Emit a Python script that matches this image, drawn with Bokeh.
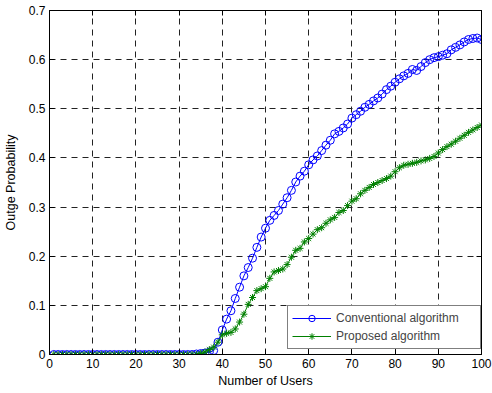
from bokeh.plotting import figure
from bokeh.models import Range1d, FixedTicker, LinearAxis, Legend, LegendItem
from bokeh.embed import file_html
from bokeh.resources import INLINE

users = list(range(1, 101))

conventional = [0.0] * 33 + [
    0.001, 0.002, 0.003, 0.005, 0.008, 0.025, 0.050,            # 34-40
    0.072, 0.089, 0.114, 0.137, 0.160, 0.177, 0.196, 0.218, 0.239, 0.257,  # 41-50
    0.273, 0.283, 0.293, 0.306, 0.319, 0.334, 0.351, 0.363, 0.373, 0.386,  # 51-60
    0.396, 0.404, 0.415, 0.426, 0.436, 0.449, 0.454, 0.461, 0.469, 0.481,  # 61-70
    0.488, 0.495, 0.503, 0.509, 0.516, 0.522, 0.530, 0.539, 0.546, 0.554,  # 71-80
    0.561, 0.567, 0.572, 0.580, 0.578, 0.586, 0.594, 0.600, 0.604, 0.606,  # 81-90
    0.609, 0.612, 0.620, 0.625, 0.630, 0.636, 0.641, 0.643, 0.644, 0.641,  # 91-100
]

proposed = [0.0] * 34 + [
    0.002, 0.005, 0.010, 0.015, 0.025, 0.040,                     # 35-40
    0.043, 0.045, 0.052, 0.066, 0.082, 0.102, 0.116, 0.130, 0.134, 0.138,  # 41-50
    0.155, 0.168, 0.171, 0.174, 0.183, 0.198, 0.212, 0.216, 0.229, 0.236,  # 51-60
    0.245, 0.254, 0.258, 0.267, 0.274, 0.279, 0.289, 0.293, 0.303, 0.312,  # 61-70
    0.317, 0.327, 0.334, 0.340, 0.346, 0.350, 0.354, 0.358, 0.363, 0.372,  # 71-80
    0.380, 0.385, 0.387, 0.389, 0.391, 0.394, 0.396, 0.399, 0.403, 0.410,  # 81-90
    0.417, 0.423, 0.428, 0.434, 0.440, 0.446, 0.452, 0.457, 0.462, 0.467,  # 91-100
]

x_ticks = [0, 10, 20, 30, 40, 50, 60, 70, 80, 90, 100]
y_ticks = [0, 0.1, 0.2, 0.3, 0.4, 0.5, 0.6, 0.7]
y_tick_labels = {0: "0", 0.1: "0.1", 0.2: "0.2", 0.3: "0.3", 0.4: "0.4",
                 0.5: "0.5", 0.6: "0.6", 0.7: "0.7"}

FONT = "Liberation Sans"

p = figure(width=492, height=393, output_backend="svg", toolbar_location=None,
           x_range=Range1d(0, 100), y_range=Range1d(0, 0.7))
p.min_border_left = 49
p.min_border_right = 11
p.min_border_top = 10
p.min_border_bottom = 39
p.outline_line_color = "black"
p.outline_line_width = 1
p.background_fill_color = "white"
p.border_fill_color = "white"

for ax in (p.xaxis[0], p.yaxis[0]):
    ax.major_tick_in = 5
    ax.major_tick_out = 0
    ax.minor_tick_line_color = None
    ax.axis_line_color = "black"
    ax.major_tick_line_color = "black"
    ax.major_label_text_font = FONT
    ax.major_label_text_font_size = "12px"
    ax.major_label_text_color = "black"
    ax.axis_label_text_font = FONT
    ax.axis_label_text_font_size = "12.5px"
    ax.axis_label_text_font_style = "normal"
    ax.axis_label_text_color = "black"

p.xaxis[0].ticker = FixedTicker(ticks=x_ticks)
p.yaxis[0].ticker = FixedTicker(ticks=y_ticks)
p.yaxis[0].major_label_overrides = y_tick_labels
p.xaxis[0].axis_label = "Number of Users"
p.yaxis[0].axis_label = "Outge Probability"
p.xaxis[0].major_label_standoff = 4
p.yaxis[0].major_label_standoff = 4
p.xaxis[0].axis_label_standoff = 3
p.yaxis[0].axis_label_standoff = 8

# box ticks on top and right (labels not drawn)
top = LinearAxis(ticker=FixedTicker(ticks=x_ticks), major_tick_in=5, major_tick_out=0,
                 minor_tick_line_color=None, major_label_text_font_size="1px",
                 major_label_text_color=None, major_label_standoff=0,
                 axis_line_color="black")
right = LinearAxis(ticker=FixedTicker(ticks=y_ticks), major_tick_in=5, major_tick_out=0,
                   minor_tick_line_color=None, major_label_text_font_size="1px",
                   major_label_text_color=None, major_label_standoff=0,
                   axis_line_color="black")
p.add_layout(top, "above")
p.add_layout(right, "right")

p.xgrid.ticker = FixedTicker(ticks=x_ticks)
p.ygrid.ticker = FixedTicker(ticks=y_ticks)
p.grid.grid_line_color = "#222222"
p.grid.grid_line_dash = "6 5"
p.grid.grid_line_width = 1

blue = "#0000ff"
green = "#008000"

l1 = p.line(users, conventional, line_color=blue, line_width=1)
s1 = p.scatter(users, conventional, marker="circle", size=8, line_color=blue,
               fill_color=None, line_width=1)
l2 = p.line(users, proposed, line_color=green, line_width=1)
s2 = p.scatter(users, proposed, marker="asterisk", size=7, line_color=green,
               line_width=1)

legend = Legend(items=[LegendItem(label="Conventional algorithm", renderers=[l1, s1]),
                       LegendItem(label="Proposed algorithm", renderers=[l2, s2])],
                location=(238, 5))
legend.border_line_color = "black"
legend.border_line_width = 1
legend.background_fill_alpha = 1
legend.label_text_font = FONT
legend.label_text_font_size = "12px"
legend.glyph_width = 39
legend.glyph_height = 16
legend.label_height = 16
legend.label_width = 140
legend.spacing = 2
legend.padding = 4
legend.margin = 0
legend.label_standoff = 5
p.add_layout(legend, "center")

open("out.html", "w").write(file_html(p, INLINE))
